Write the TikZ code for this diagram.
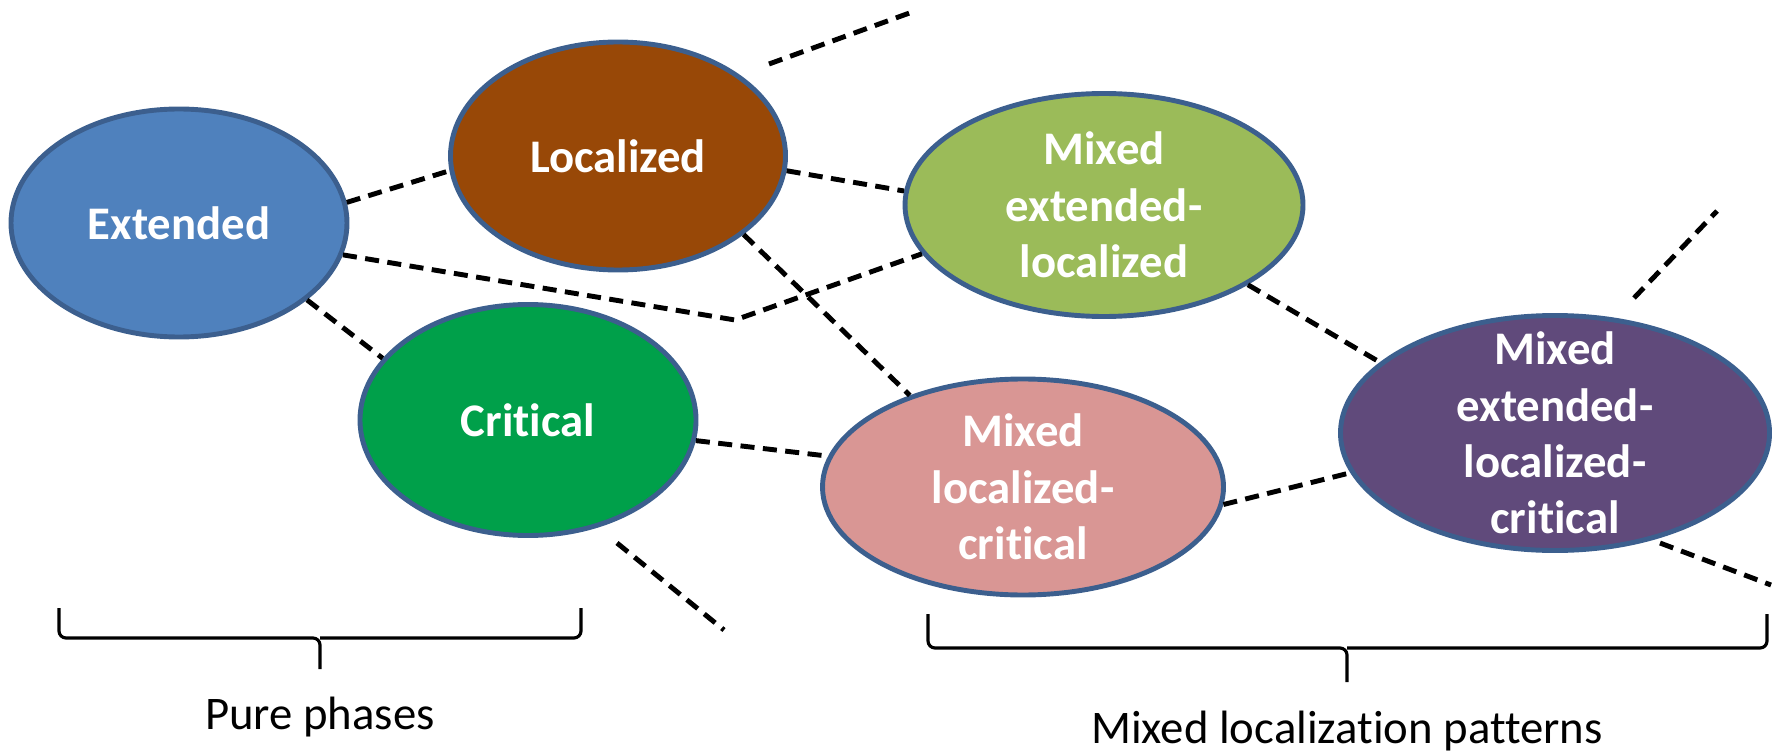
\documentclass[tikz,border=0pt]{standalone}
\usepackage{fontspec}
\setmainfont{Carlito}[Ligatures=NoCommon]
\usepackage{tikz}
\usetikzlibrary{shapes}
\definecolor{extblue}{HTML}{4F81BD}
\definecolor{locbrown}{HTML}{984807}
\definecolor{critgreen}{HTML}{00A04A}
\definecolor{elgreen}{HTML}{9BBB59}
\definecolor{lcpink}{HTML}{D99694}
\definecolor{elcpurple}{HTML}{604A7B}
\definecolor{rim}{HTML}{3C5F8E}
\tikzstyle{phasenode}=[ellipse,draw=rim,line width=1.4pt,inner sep=0pt]
\tikzstyle{phasetext}=[text=white,font=\fontsize{13.3}{16}\selectfont\bfseries,align=center]
\tikzstyle{link} = [draw,line width=1.4pt,dash pattern=on 4pt off 2.4pt]
\tikzstyle{bracket} = [draw,line width=0.9pt,rounded corners=2pt]
\tikzstyle{caption}=[font=\fontsize{13.3}{16}\selectfont,anchor=base]

\begin{document}
\begin{tikzpicture}
        \useasboundingbox (0,0) rectangle (17.79,7.53);
        % pure phases
        \node[phasenode,fill=extblue,minimum width=3.36cm,minimum height=2.28cm,
          label={[phasetext]center:Extended}] (ext) at (1.79,5.30) {};
        \node[phasenode,fill=locbrown,minimum width=3.35cm,minimum height=2.28cm,
          label={[phasetext]center:Localized}] (loc) at (6.18,5.97) {};
        \node[phasenode,fill=critgreen,minimum width=3.36cm,minimum height=2.31cm,
          label={[phasetext]center:Critical}] (crit) at (5.28,3.33) {};
        % mixed patterns
        \node[phasenode,fill=elgreen,minimum width=3.98cm,minimum height=2.23cm,
          label={[phasetext]center:{Mixed\\extended-\\localized}}] (mel) at (11.04,5.48) {};
        \node[phasenode,fill=lcpink,minimum width=4.01cm,minimum height=2.16cm,
          label={[phasetext]center:{Mixed\\localized-\\critical}}] (mlc) at (10.23,2.66) {};
        \node[phasenode,fill=elcpurple,minimum width=4.29cm,minimum height=2.35cm,
          label={[phasetext]center:{Mixed\\extended-\\localized-\\critical}}] (melc) at (15.55,3.20) {};
        \coordinate (kink) at (7.35,4.33);
        \draw[link] (ext.7) to (loc.185);
        \draw[link] (loc.-5) to (mel.176);
        \draw[link] (ext.-11) -- (kink) -- (mel.195);
        \draw[link] (ext.-31) to (crit.157);
        \draw[link] (loc.-32) to (mlc.141);
        \draw[link] (crit.-7) to (mlc.171);
        \draw[link] (mel.-29) to (melc.158);
        \draw[link] (mlc.-5) to (melc.191);
        % loose ends
        \coordinate (f1a) at (7.69,6.89);
        \coordinate (f1b) at (9.15,7.42);
        \coordinate (f2a) at (16.34,4.55);
        \coordinate (f2b) at (17.17,5.42);
        \coordinate (f3a) at (6.17,2.10);
        \coordinate (f3b) at (7.24,1.23);
        \coordinate (f4a) at (16.60,2.10);
        \coordinate (f4b) at (17.71,1.68);
        \draw[link] (f1a) to (f1b);
        \draw[link] (f2a) to (f2b);
        \draw[link] (f3a) to (f3b);
        \draw[link] (f4a) to (f4b);
        % braces
        \coordinate (pl) at (0.59,1.45);
        \coordinate (pr) at (5.81,1.45);
        \coordinate (pm) at (3.20,1.15);
        \coordinate (ptip) at (3.20,0.84);
        \draw[bracket] (pl) |- (pm) -- (ptip);
        \draw[bracket] (pr) |- (pm);
        \coordinate (ml) at (9.28,1.39);
        \coordinate (mr) at (17.67,1.39);
        \coordinate (mm) at (13.47,1.05);
        \coordinate (mtip) at (13.47,0.71);
        \draw[bracket] (ml) |- (mm) -- (mtip);
        \draw[bracket] (mr) |- (mm);
        \node[caption] (purelbl) at (3.20,0.24) {Pure phases};
        \node[caption] (mixlbl) at (13.47,0.10) {Mixed localization patterns};
      \end{tikzpicture}
\end{document}
